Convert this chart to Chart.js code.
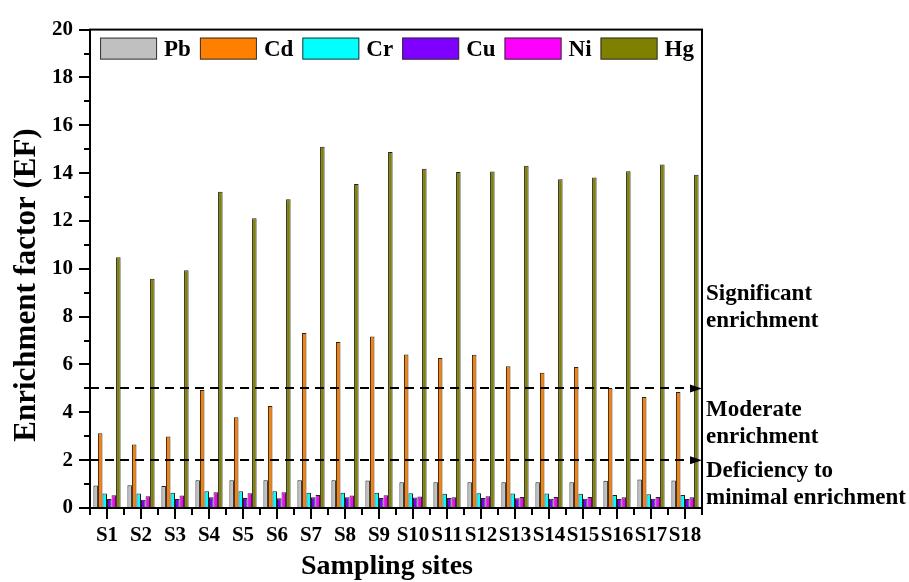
<!DOCTYPE html>
<html>
<head>
<meta charset="utf-8">
<script src="https://cdn.jsdelivr.net/npm/chart.js@4"></script>
<style>
  html, body { margin: 0; padding: 0; background: #fff; }
  #wrap { width: 909px; height: 582px; }
</style>
</head>
<body>
<div id="wrap"><canvas id="chartEF"></canvas></div>
<script>
  const sites = ['S1', 'S2', 'S3', 'S4', 'S5', 'S6', 'S7', 'S8', 'S9', 'S10', 'S11', 'S12', 'S13', 'S14', 'S15', 'S16', 'S17', 'S18'];
  const pb = [0.94, 0.95, 0.92, 1.16, 1.16, 1.16, 1.16, 1.16, 1.15, 1.08, 1.08, 1.08, 1.08, 1.08, 1.08, 1.14, 1.19, 1.15];
  const cd = [3.12, 2.65, 2.99, 4.93, 3.79, 4.26, 7.32, 6.94, 7.17, 6.42, 6.27, 6.41, 5.93, 5.65, 5.89, 5.02, 4.64, 4.85];
  const cr = [0.61, 0.61, 0.64, 0.70, 0.70, 0.70, 0.64, 0.64, 0.64, 0.62, 0.60, 0.62, 0.61, 0.61, 0.60, 0.54, 0.57, 0.54];
  const cu = [0.38, 0.35, 0.38, 0.45, 0.42, 0.41, 0.45, 0.45, 0.42, 0.44, 0.42, 0.42, 0.41, 0.39, 0.39, 0.38, 0.39, 0.38];
  const ni = [0.53, 0.49, 0.52, 0.66, 0.62, 0.66, 0.54, 0.52, 0.53, 0.48, 0.45, 0.49, 0.46, 0.46, 0.46, 0.45, 0.46, 0.45];
  const hg = [10.48, 9.58, 9.94, 13.22, 12.11, 12.91, 15.1, 13.55, 14.88, 14.18, 14.05, 14.07, 14.31, 13.74, 13.82, 14.08, 14.36, 13.93];

  const metals = ['Pb', 'Cd', 'Cr', 'Cu', 'Ni', 'Hg'];
  const series = [pb, cd, cr, cu, ni, hg];
  const colors = ['#C0C0C0', '#FF8000', '#00FFFF', '#8000FF', '#FF00FF', '#808000'];

  // classification thresholds shown as dashed lines + right-hand notes
  const thresholds = [5, 2];
  const zoneNotes = [
    { lines: ['Significant', 'enrichment'], y: 300 },
    { lines: ['Moderate', 'enrichment'], y: 416 },
    { lines: ['Deficiency to', 'minimal enrichment'], y: 477 }
  ];

  const FONT = '"Liberation Serif", "Times New Roman", serif';

  const datasets = metals.map((m, i) => ({
    label: m,
    data: series[i],
    backgroundColor: colors[i],
    borderColor: '#222',
    borderWidth: 1,
    categoryPercentage: 0.8,
    barPercentage: 1.0
  }));

  const decor = {
    id: 'decor',
    afterDatasetsDraw(chart) {
      const { ctx, chartArea: a, scales: { x, y } } = chart;
      ctx.save();

      // dashed threshold lines
      ctx.strokeStyle = '#000';
      ctx.lineWidth = 2;
      ctx.setLineDash([9, 6]);
      thresholds.forEach(t => {
        const py = Math.round(y.getPixelForValue(t));
        ctx.beginPath();
        ctx.moveTo(a.left, py);
        ctx.lineTo(a.right - 10, py);
        ctx.stroke();
      });
      ctx.setLineDash([]);

      // frame
      ctx.lineWidth = 2;
      ctx.strokeRect(a.left, a.top, a.right - a.left, a.bottom - a.top);

      // y ticks (major every 2, minor every 1)
      for (let v = 0; v <= 20; v++) {
        const py = Math.round(y.getPixelForValue(v));
        const len = v % 2 === 0 ? 11 : 6;
        ctx.beginPath();
        ctx.moveTo(a.left - len, py);
        ctx.lineTo(a.left, py);
        ctx.stroke();
      }

      // x ticks: major at site centres, minor at boundaries
      const step = (a.right - a.left) / sites.length;
      sites.forEach((s, i) => {
        const px = Math.round(x.getPixelForValue(i));
        ctx.beginPath();
        ctx.moveTo(px, a.bottom);
        ctx.lineTo(px, a.bottom + 11);
        ctx.stroke();
      });
      for (let i = 0; i <= sites.length; i++) {
        const px = Math.round(a.left + i * step);
        ctx.beginPath();
        ctx.moveTo(px, a.bottom);
        ctx.lineTo(px, a.bottom + 7);
        ctx.stroke();
      }

      // arrow heads on the right axis
      ctx.fillStyle = '#000';
      thresholds.forEach(t => {
        const py = y.getPixelForValue(t);
        ctx.beginPath();
        ctx.moveTo(a.right - 12, py - 4);
        ctx.lineTo(a.right, py);
        ctx.lineTo(a.right - 12, py + 4);
        ctx.closePath();
        ctx.fill();
      });

      // legend inside the top of the plot
      ctx.font = 'bold 23px ' + FONT;
      ctx.textBaseline = 'middle';
      ctx.textAlign = 'left';
      const boxW = 57, boxH = 22, gap = 7, pad = 9;
      const widths = chart.data.datasets.map(d => boxW + gap + ctx.measureText(d.label).width);
      const total = widths.reduce((s, w) => s + w, 0) + pad * (widths.length - 1);
      let lx = (a.left + a.right) / 2 - total / 2 + 1;
      const ly = a.top + 8;
      chart.data.datasets.forEach((d, i) => {
        ctx.fillStyle = d.backgroundColor;
        ctx.fillRect(lx, ly, boxW, boxH);
        ctx.strokeStyle = '#333';
        ctx.lineWidth = 1;
        ctx.strokeRect(lx + 0.5, ly + 0.5, boxW - 1, boxH - 1);
        ctx.fillStyle = '#000';
        ctx.fillText(d.label, lx + boxW + gap, ly + boxH / 2 + 1);
        lx += widths[i] + pad;
      });

      // zone notes to the right of the plot
      ctx.font = 'bold 23px ' + FONT;
      ctx.textBaseline = 'alphabetic';
      zoneNotes.forEach(n => {
        n.lines.forEach((t, j) => {
          ctx.fillText(t, a.right + 4, n.y + j * 27);
        });
      });

      // axis titles
      ctx.textAlign = 'center';
      ctx.font = 'bold 28px ' + FONT;
      ctx.fillText('Sampling sites', 387, 574);

      ctx.save();
      ctx.translate(27, 285);
      ctx.rotate(-Math.PI / 2);
      ctx.font = 'bold 31px ' + FONT;
      ctx.textBaseline = 'middle';
      ctx.fillText('Enrichment factor (EF)', 0, 0);
      ctx.restore();

      ctx.restore();
    }
  };

  new Chart(document.getElementById('chartEF'), {
    type: 'bar',
    data: { labels: sites, datasets },
    options: {
      responsive: true,
      maintainAspectRatio: false,
      animation: false,
      layout: { padding: { left: 0, right: 207, top: 19, bottom: 0 } },
      plugins: {
        legend: { display: false },
        tooltip: { enabled: false }
      },
      scales: {
        x: {
          grid: { display: false, drawTicks: false },
          border: { display: false },
          ticks: {
            autoSkip: false, maxRotation: 0, minRotation: 0, padding: 15,
            color: '#000', font: { family: FONT, size: 21, weight: 'bold' }
          },
          afterFit: s => { s.height = 74; }
        },
        y: {
          min: 0, max: 20,
          grid: { display: false, drawTicks: false },
          border: { display: false },
          ticks: {
            stepSize: 2, padding: 17,
            color: '#000', font: { family: FONT, size: 21, weight: 'bold' }
          },
          afterFit: s => { s.width = 90; }
        }
      }
    },
    plugins: [decor]
  });
</script>
</body>
</html>
